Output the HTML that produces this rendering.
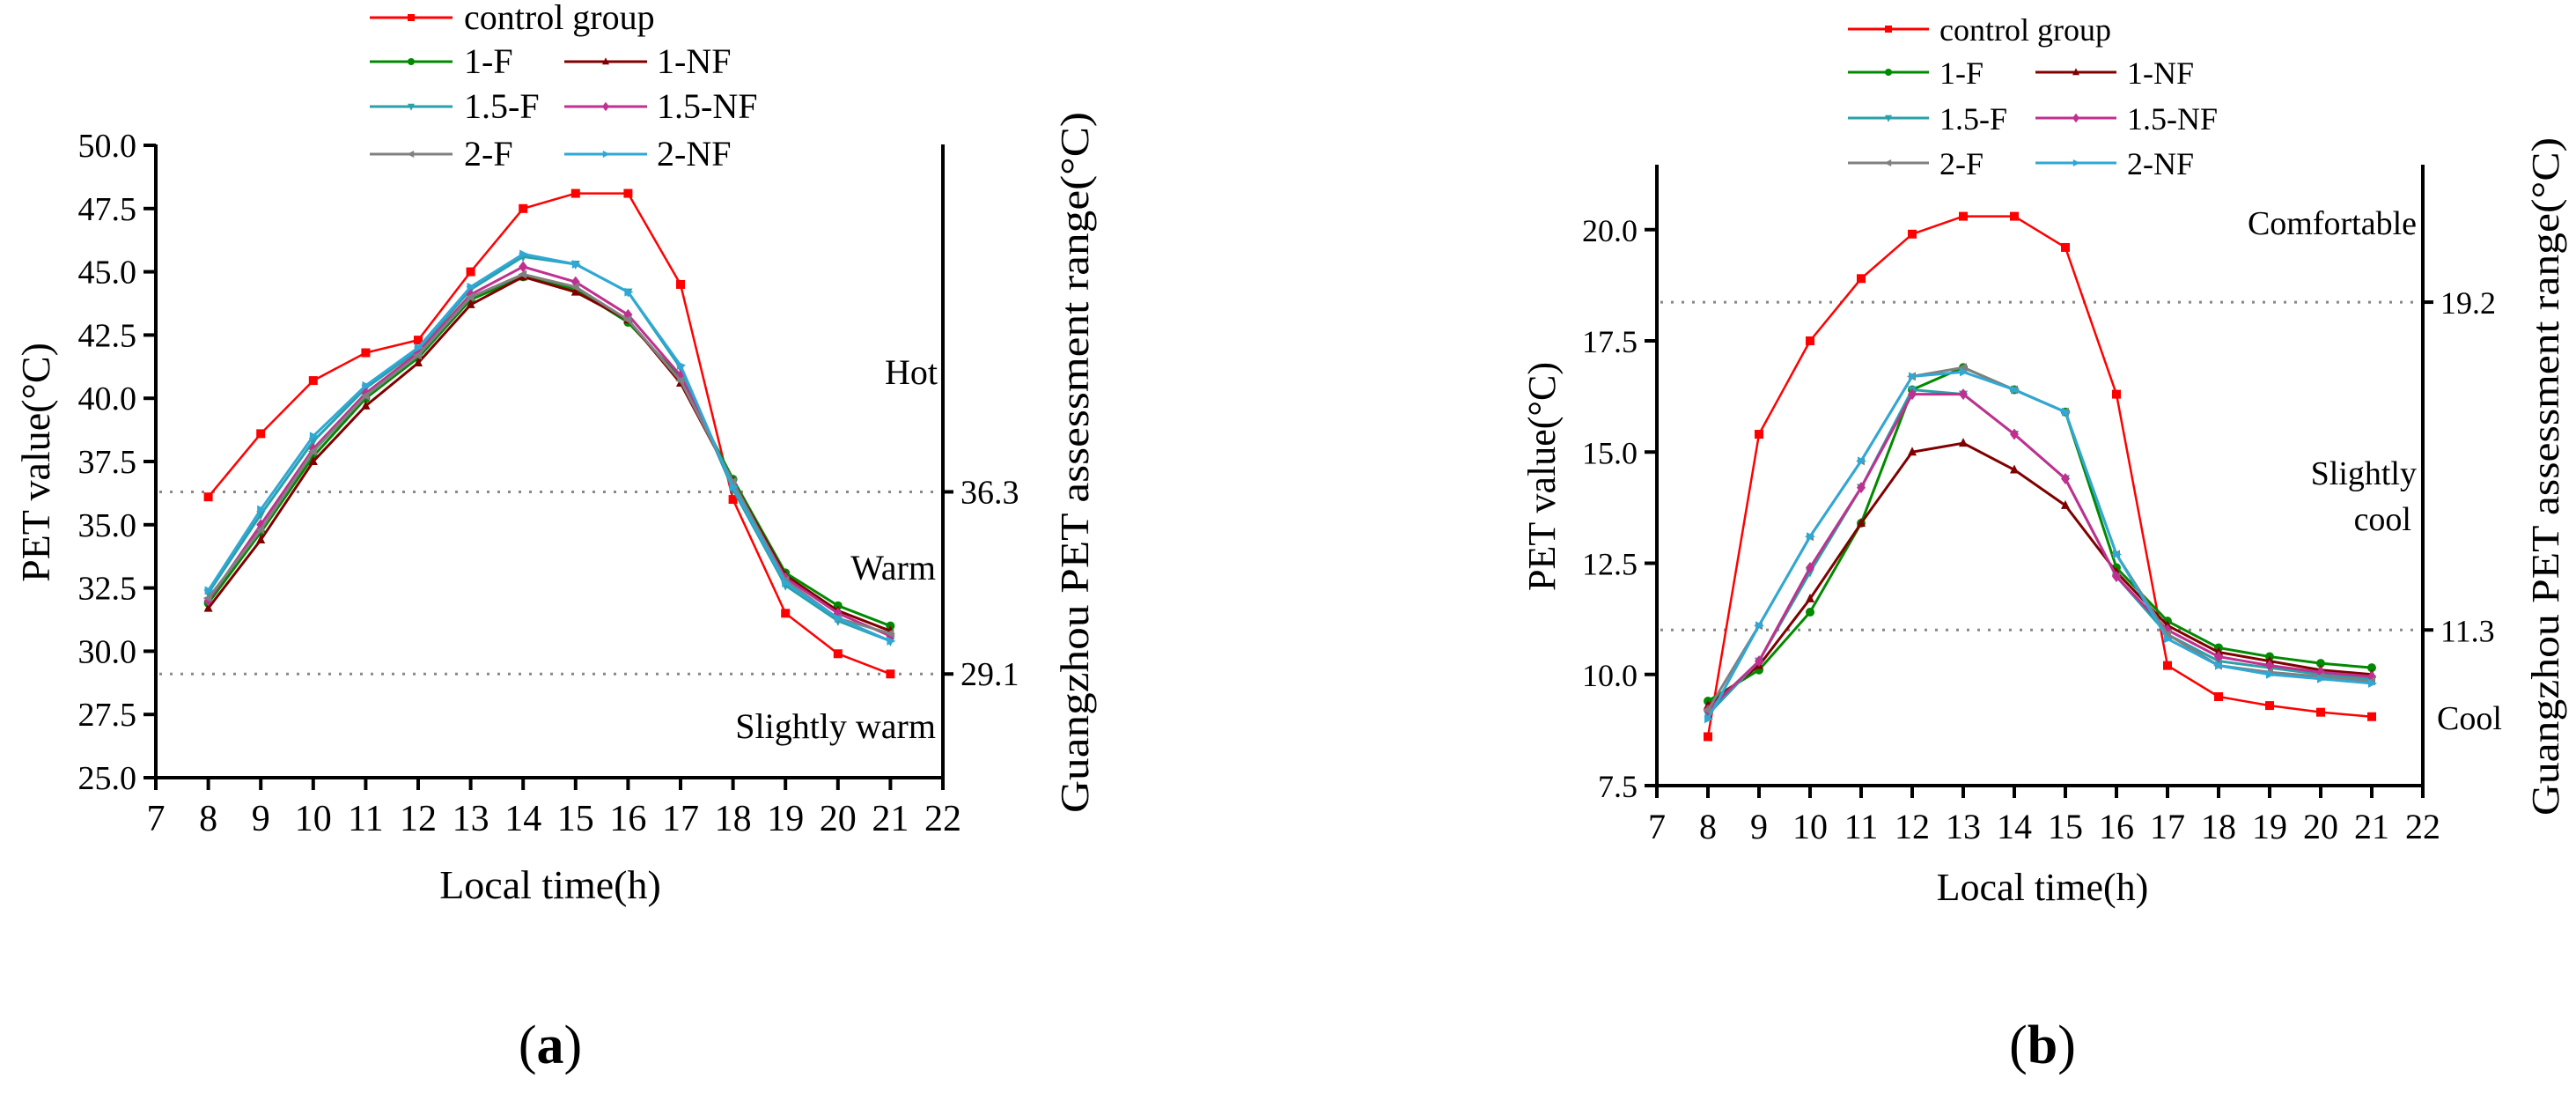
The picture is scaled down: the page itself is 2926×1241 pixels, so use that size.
<!DOCTYPE html>
<html><head><meta charset="utf-8"><style>
html,body{margin:0;padding:0;background:#fff;}
svg{display:block;font-family:"Liberation Serif",serif;}
</style></head><body>
<svg id="root" width="2926" height="1241" viewBox="0 0 2926 1241" xmlns="http://www.w3.org/2000/svg">
<g id="ca"></g>
<g id="cb"></g>
</svg>
<script>
const hours = [8,9,10,11,12,13,14,15,16,17,18,19,20,21];
const seriesNames = ["control group","1-F","1-NF","1.5-F","1.5-NF","2-F","2-NF"];
const aControl = [36.1,38.6,40.7,41.8,42.3,45.0,47.5,48.1,48.1,44.5,36.0,31.5,29.9,29.1];
const a1F     = [31.9,34.7,37.7,40.0,41.6,43.9,44.8,44.3,43.0,40.8,36.8,33.1,31.8,31.0];
const a1NF    = [31.7,34.4,37.5,39.7,41.4,43.7,44.8,44.2,43.1,40.6,36.7,33.0,31.6,30.8];
const a15F    = [32.3,35.4,38.3,40.4,41.9,44.3,45.6,45.3,44.2,41.2,36.4,32.6,31.2,30.4];
const a15NF   = [32.0,35.0,38.0,40.2,41.8,44.1,45.2,44.6,43.3,40.9,36.6,32.9,31.5,30.6];
const a2F     = [32.1,34.8,37.9,40.1,41.7,44.0,44.9,44.4,43.1,40.7,36.7,32.8,31.3,30.7];
const a2NF    = [32.4,35.6,38.5,40.5,42.0,44.4,45.7,45.3,44.2,41.3,36.5,32.7,31.3,30.4];
const bControl = [8.6,15.4,17.5,18.9,19.9,20.3,20.3,19.6,16.3,10.2,9.5,9.3,9.15,9.05];
const b1F     = [9.4,10.1,11.4,13.4,16.4,16.9,16.4,15.9,12.4,11.2,10.6,10.4,10.25,10.15];
const b1NF    = [9.3,10.2,11.7,13.4,15.0,15.2,14.6,13.8,12.3,11.1,10.5,10.3,10.1,10.0];
const b15F    = [9.1,10.3,12.3,14.2,16.4,16.3,15.4,14.4,12.2,10.9,10.3,10.15,10.0,9.9];
const b15NF   = [9.2,10.3,12.4,14.2,16.3,16.3,15.4,14.4,12.2,11.0,10.4,10.2,10.05,9.95];
const b2F     = [9.2,11.1,13.1,14.8,16.7,16.9,16.4,15.9,12.7,10.9,10.2,10.05,9.95,9.85];
const b2NF    = [9.0,11.1,13.1,14.8,16.7,16.8,16.4,15.9,12.7,10.8,10.2,10.0,9.9,9.8];
const xTicks = [7,8,9,10,11,12,13,14,15,16,17,18,19,20,21,22];
const aYTicks = [25.0,27.5,30.0,32.5,35.0,37.5,40.0,42.5,45.0,47.5,50.0];
const bYTicks = [7.5,10.0,12.5,15.0,17.5,20.0];
const aThresh = [36.3,29.1];
const bThreshLeft = [18.37,11.0];
const bThreshLabels = ["19.2","11.3"];

const colors=["#ff0000","#008a00","#800000","#2aa0a8","#c0308f","#808080","#2fa8d6"];
const markers=["sq","ci","tu","td","di","tl","tr"];
const NS="http://www.w3.org/2000/svg";
function mk(p,tag,at,txt){const e=document.createElementNS(NS,tag);for(const k in at)e.setAttribute(k,at[k]);if(txt!==undefined)e.textContent=txt;p.appendChild(e);return e;}
function marker(g,t,x,y,c,s){
  let e;
  if(t==="sq") e=mk(g,"rect",{x:x-s,y:y-s,width:2*s,height:2*s,fill:c});
  else if(t==="ci") e=mk(g,"circle",{cx:x,cy:y,r:s,fill:c});
  else {let pts;
    if(t==="tu")pts=[[x,y-s*1.2],[x-s,y+s*0.8],[x+s,y+s*0.8]];
    if(t==="td")pts=[[x,y+s*1.2],[x-s,y-s*0.8],[x+s,y-s*0.8]];
    if(t==="di")pts=[[x,y-s*1.3],[x+s,y],[x,y+s*1.3],[x-s,y]];
    if(t==="tl")pts=[[x-s*1.2,y],[x+s*0.8,y-s],[x+s*0.8,y+s]];
    if(t==="tr")pts=[[x+s*1.2,y],[x-s*0.8,y-s],[x-s*0.8,y+s]];
    e=mk(g,"polygon",{points:pts.map(p=>p.join(",")).join(" "),fill:c});}
  return e;
}
function drawChart(cfg){
  const g=document.getElementById(cfg.id);
  const X=v=>cfg.x0+(v-7)*cfg.xs;
  const Y=v=>cfg.y0-(v-cfg.ymin)*cfg.ys;
  const right=X(22);
  cfg.thresh.forEach((v,i)=>{
    const l=mk(g,"line",{x1:X(7)+4,x2:right,y1:Y(v),y2:Y(v),stroke:"#888","stroke-width":3,"stroke-dasharray":"3 9"});
    
    
    mk(g,"line",{x1:right,x2:right+12,y1:Y(v),y2:Y(v),stroke:"#000","stroke-width":4});
    const t=mk(g,"text",{x:right+20,y:Y(v)+13,"font-size":cfg.fs},cfg.threshLabels[i]);
    
    
  });
  const ax=mk(g,"path",{d:`M${X(7)},${cfg.top}V${cfg.y0}H${right}V${cfg.top}`,fill:"none",stroke:"#000","stroke-width":4});
  
  
  xTicks.forEach(v=>{
    mk(g,"line",{x1:X(v),x2:X(v),y1:cfg.y0,y2:cfg.y0+14,stroke:"#000","stroke-width":4});
    const t=mk(g,"text",{x:X(v),y:cfg.y0+60,"font-size":cfg.fs+4,"text-anchor":"middle"},String(v));
    
    
  });
  cfg.yTicks.forEach(v=>{
    mk(g,"line",{x1:X(7)-14,x2:X(7),y1:Y(v),y2:Y(v),stroke:"#000","stroke-width":4});
    const t=mk(g,"text",{x:X(7)-22,y:Y(v)+13,"font-size":cfg.fs,"text-anchor":"end"},v.toFixed(1));
    
    
  });
  cfg.data.forEach((arr,si)=>{
    const sg=mk(g,"g",{});
    
    
    mk(sg,"polyline",{points:arr.map((v,i)=>X(hours[i])+","+Y(v)).join(" "),fill:"none",stroke:colors[si],"stroke-width":si===0?2.5:3});
    arr.forEach((v,i)=>{
      const m=marker(sg,markers[si],X(hours[i]),Y(v),colors[si],5);
      
      
    });
  });
  const lg=mk(g,"g",{});
  
  
  cfg.legend.forEach((p,si)=>{
    const [lx,ly,tx]=p;
    const e=mk(lg,"g",{});
    
    
    mk(e,"line",{x1:lx,x2:lx+cfg.legLen,y1:ly,y2:ly,stroke:colors[si],"stroke-width":3});
    marker(e,markers[si],lx+cfg.legLen/2,ly,colors[si],4);
    mk(e,"text",{x:tx,y:ly+13,"font-size":cfg.lfs},seriesNames[si]);
  });
  cfg.notes.forEach(n=>{
    const t=mk(g,"text",{x:n[1],y:n[2],"font-size":cfg.nfs,"text-anchor":n[3]||"end"},n[0]);
    
    
  });
  const yl=mk(g,"text",{x:0,y:0,"font-size":cfg.tfs,"text-anchor":"middle",transform:`translate(${cfg.ylx},${cfg.yly}) rotate(-90)`},"PET value(°C)");
  
  
  const rl=mk(g,"text",{x:0,y:0,"font-size":cfg.tfs,"text-anchor":"middle",textLength:cfg.rlLen,lengthAdjust:"spacingAndGlyphs",transform:`translate(${cfg.rlx},${cfg.rly}) rotate(-90)`},"Guangzhou PET assessment range(°C)");
  
  
  const xl=mk(g,"text",{x:cfg.xlx,y:cfg.xly,"font-size":cfg.tfs,"text-anchor":"middle"},"Local time(h)");
  
  
  const pl=mk(g,"text",{x:cfg.xlx,y:1207,"font-size":62,"text-anchor":"middle"},"");
  
  
  mk(pl,"tspan",{},"(");mk(pl,"tspan",{"font-weight":"bold"},cfg.panel);mk(pl,"tspan",{},")");
}
drawChart({id:"ca",x0:177,xs:59.6,y0:883,ymin:25,ys:28.72,top:164,yTicks:aYTicks,
  thresh:aThresh,threshLabels:["36.3","29.1"],fs:38,lfs:40,nfs:40,tfs:46,
  data:[aControl,a1F,a1NF,a15F,a15NF,a2F,a2NF],legLen:94,
  legend:[[420,20,527],[420,70,527],[641,70,746],[420,121,527],[641,121,746],[420,175,527],[641,175,746]],
  notes:[["Hot",1065,436],["Warm",1063,658],["Slightly warm",1063,838]],
  ylx:56,yly:525,rlx:1236,rly:525,rlLen:796,xlx:625,xly:1020,panel:"a"});
drawChart({id:"cb",x0:1882,xs:58,y0:892,ymin:7.5,ys:50.5,top:187,yTicks:bYTicks,
  thresh:bThreshLeft,threshLabels:bThreshLabels,fs:36,lfs:36,nfs:38,tfs:44,
  data:[bControl,b1F,b1NF,b15F,b15NF,b2F,b2NF],legLen:92,
  legend:[[2099,33,2203],[2099,82,2203],[2312,82,2416],[2099,134,2203],[2312,134,2416],[2099,185,2203],[2312,185,2416]],
  notes:[["Comfortable",2745,266],["Slightly",2745,550],["cool",2739,602],["Cool",2768,828,"start"]],
  ylx:1766,yly:541,rlx:2906,rly:541,rlLen:770,xlx:2320,xly:1022,panel:"b"});
</script>
</body></html>
